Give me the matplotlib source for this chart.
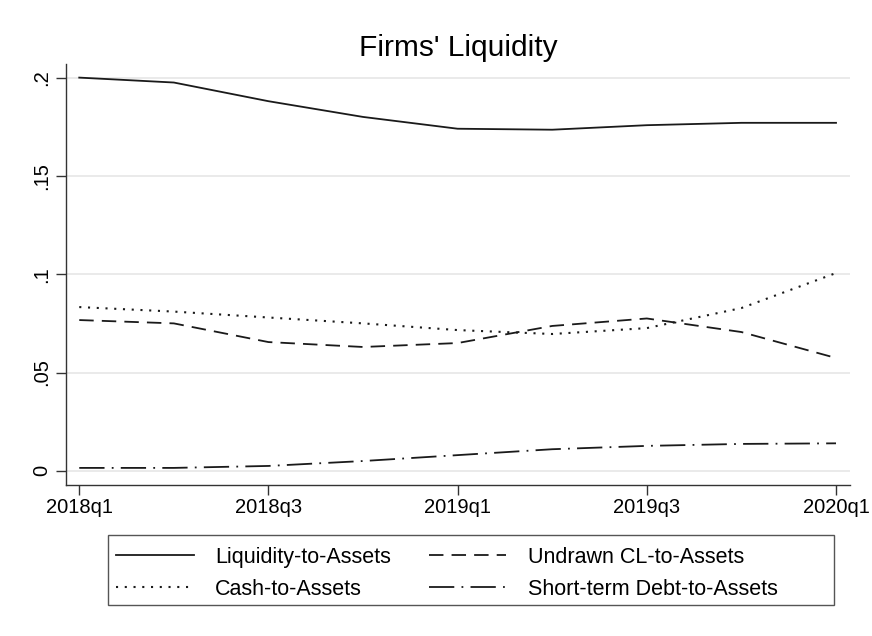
import matplotlib.pyplot as plt
from matplotlib.patches import Rectangle

plt.rcParams['font.family'] = ['Liberation Sans', 'DejaVu Sans']

quarters = ['2018q1', '2018q2', '2018q3', '2018q4', '2019q1',
            '2019q2', '2019q3', '2019q4', '2020q1']
liquidity = [0.200, 0.1975, 0.188, 0.180, 0.174, 0.1735, 0.1758, 0.177, 0.177]
undrawn = [0.0767, 0.075, 0.0655, 0.063, 0.065, 0.0737, 0.0775, 0.0706, 0.0574]
cash = [0.0833, 0.081, 0.078, 0.075, 0.0716, 0.0696, 0.0726, 0.0828, 0.1006]
st_debt = [0.0015, 0.0015, 0.0025, 0.005, 0.008, 0.011, 0.0127, 0.0137, 0.014]

tick_pos = [0, 2, 4, 6, 8]
tick_lab = ['2018q1', '2018q3', '2019q1', '2019q3', '2020q1']
y_ticks = [0, 0.05, 0.1, 0.15, 0.2]
y_labs = ['0', '.05', '.1', '.15', '.2']

fig = plt.figure(figsize=(8.72, 6.36), dpi=100)
ax = fig.add_axes([0.0757, 0.2374, 0.8993, 0.6616])

x = list(range(len(quarters)))
lw = 1.3
l1, = ax.plot(x, liquidity, color='#1a1a1a', lw=lw, ls='-')
l2, = ax.plot(x, undrawn, color='#1a1a1a', lw=lw, ls=(0, (8, 4.5)))
l3, = ax.plot(x, cash, color='#1a1a1a', lw=1.5, ls=(0, (1.0, 3.2)))
l4, = ax.plot(x, st_debt, color='#1a1a1a', lw=lw, ls=(0, (14, 4, 1, 4)))

ax.set_xlim(-0.14, 8.15)
ax.set_ylim(-0.0072, 0.2068)
ax.set_xticks(tick_pos)
ax.set_xticklabels(tick_lab, fontsize=14.5)
ax.set_yticks(y_ticks)
ax.set_yticklabels(y_labs, fontsize=14.5, rotation=90, va='center')
ax.grid(axis='y', color='#e6e6e6', lw=1.2)
ax.set_axisbelow(True)
for s in ['top', 'right']:
    ax.spines[s].set_visible(False)
for s in ['left', 'bottom']:
    ax.spines[s].set_color('#333333')
    ax.spines[s].set_linewidth(1.0)
ax.tick_params(axis='both', length=7, width=1.0, color='#333333', direction='out')
ax.tick_params(axis='x', pad=2)
ax.set_title("Firms' Liquidity", fontsize=21.5, pad=6)

# legend frame drawn separately (Stata-like wide box)
fig.patches.append(Rectangle((108 / 872, 1 - 605 / 636), 726 / 872, 70 / 636,
                             transform=fig.transFigure, fill=False,
                             edgecolor='#555555', lw=1.0))
fig.legend(handles=[l1, l3, l2, l4],
           labels=['Liquidity-to-Assets', 'Cash-to-Assets',
                   'Undrawn CL-to-Assets', 'Short-term Debt-to-Assets'],
           ncol=2, loc='upper left',
           bbox_to_anchor=(116 / 872, 1 - 547 / 636),
           fontsize=15.5, handlelength=3.6, handletextpad=1.0,
           columnspacing=1.75, frameon=False, borderpad=0,
           borderaxespad=0, labelspacing=0.5)

fig.savefig('out.png', dpi=100, facecolor='white')
